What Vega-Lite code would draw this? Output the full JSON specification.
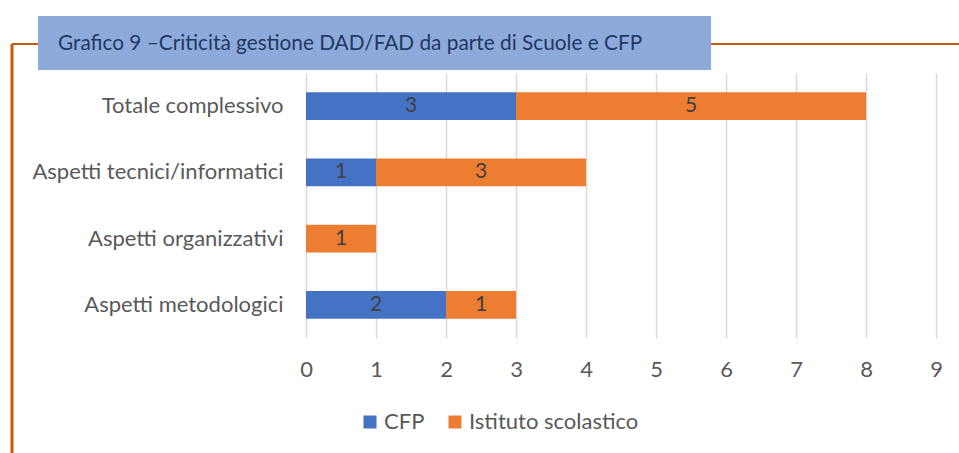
{
  "$schema": "https://vega.github.io/schema/vega-lite/v6.json",
  "width": 630,
  "height": 265,
  "autosize": {"type": "none"},
  "padding": {"left": 306, "top": 73, "right": 23, "bottom": 115},
  "background": "white",
  "config": {
    "view": {"stroke": null},
    "font": "Lato",
    "text": {"font": "Lato"}
  },
  "datasets": {
    "bars": [
      {"categoria": "Totale complessivo", "serie": "CFP", "valore": 3},
      {"categoria": "Totale complessivo", "serie": "Istituto scolastico", "valore": 5},
      {"categoria": "Aspetti tecnici/informatici", "serie": "CFP", "valore": 1},
      {"categoria": "Aspetti tecnici/informatici", "serie": "Istituto scolastico", "valore": 3},
      {"categoria": "Aspetti organizzativi", "serie": "Istituto scolastico", "valore": 1},
      {"categoria": "Aspetti metodologici", "serie": "CFP", "valore": 2},
      {"categoria": "Aspetti metodologici", "serie": "Istituto scolastico", "valore": 1}
    ]
  },
  "layer": [
    {
      "layer": [
        {
          "data": {"name": "bars"},
          "mark": {"type": "bar"},
          "encoding": {
            "y": {
              "field": "categoria", "type": "nominal",
              "sort": ["Totale complessivo", "Aspetti tecnici/informatici", "Aspetti organizzativi", "Aspetti metodologici"],
              "scale": {"paddingInner": 0.58, "paddingOuter": 0.29},
              "axis": {"title": null, "domain": false, "ticks": false, "labelFontSize": 22, "labelColor": "#595959", "labelPadding": 23, "labelFont": "Lato", "labelLimit": 400}
            },
            "x": {
              "field": "valore", "type": "quantitative", "stack": "zero",
              "scale": {"domain": [0, 9], "nice": false},
              "axis": {"title": null, "domain": false, "ticks": false, "values": [0,1,2,3,4,5,6,7,8,9], "format": "d", "labelAlign": "center", "labelFontSize": 22, "labelColor": "#595959", "labelPadding": 21, "labelFont": "Lato", "gridColor": "#D9D9D9", "gridWidth": 1.5}
            },
            "color": {
              "field": "serie", "type": "nominal",
              "scale": {"domain": ["CFP", "Istituto scolastico"], "range": ["#4472C4", "#ED7D31"]},
              "legend": {"title": null, "orient": "none", "direction": "horizontal", "legendX": 53, "legendY": 338, "symbolType": "square", "symbolSize": 169, "symbolStrokeWidth": 0, "labelFontSize": 22, "labelColor": "#595959", "labelFont": "Lato", "labelOffset": 3, "labelLimit": 400, "columnPadding": 19, "padding": 0}
            },
            "order": {"field": "serie"}
          }
        },
        {
          "data": {"name": "bars"},
          "mark": {"type": "text", "fontSize": 21, "color": "#404040", "baseline": "middle", "align": "center", "font": "Lato"},
          "encoding": {
            "y": {
              "field": "categoria", "type": "nominal",
              "sort": ["Totale complessivo", "Aspetti tecnici/informatici", "Aspetti organizzativi", "Aspetti metodologici"]
            },
            "x": {"field": "valore", "type": "quantitative", "stack": "zero", "bandPosition": 0.5},
            "detail": {"field": "serie"},
            "order": {"field": "serie"},
            "text": {"field": "valore", "type": "quantitative"}
          }
        }
      ]
    },
    {
      "layer": [
        {
          "data": {"values": [{}]},
          "mark": {"type": "rule", "color": "#C55A11", "strokeWidth": 2},
          "encoding": {
            "x": {"datum": -4.2, "type": "quantitative"},
            "x2": {"datum": 9.33},
            "y": {"datum": -29, "type": "quantitative", "scale": {"domain": [0, 265], "reverse": true, "nice": false, "zero": false}, "axis": null}
          }
        },
        {
          "data": {"values": [{}]},
          "mark": {"type": "rule", "color": "#C55A11", "strokeWidth": 3},
          "encoding": {
            "x": {"datum": -4.2, "type": "quantitative"},
            "y": {"datum": -29, "type": "quantitative", "scale": {"domain": [0, 265], "reverse": true, "nice": false, "zero": false}, "axis": null},
            "y2": {"datum": 380}
          }
        },
        {
          "data": {"values": [{}]},
          "mark": {"type": "rect", "color": "#8EAADB"},
          "encoding": {
            "x": {"datum": -3.829, "type": "quantitative"},
            "x2": {"datum": 5.786},
            "y": {"datum": -57, "type": "quantitative", "scale": {"domain": [0, 265], "reverse": true, "nice": false, "zero": false}, "axis": null},
            "y2": {"datum": -3}
          }
        },
        {
          "data": {"values": [{"titolo": "Grafico 9 –Criticità gestione DAD/FAD da parte di Scuole e CFP"}]},
          "mark": {"type": "text", "fontSize": 20.8, "color": "#1F3864", "align": "left", "baseline": "middle", "font": "Lato"},
          "encoding": {
            "x": {"datum": -3.543, "type": "quantitative"},
            "y": {"datum": -29, "type": "quantitative", "scale": {"domain": [0, 265], "reverse": true, "nice": false, "zero": false}, "axis": null},
            "text": {"field": "titolo", "type": "nominal"}
          }
        }
      ]
    }
  ],
  "resolve": {"scale": {"y": "independent"}, "axis": {"y": "independent"}}
}
